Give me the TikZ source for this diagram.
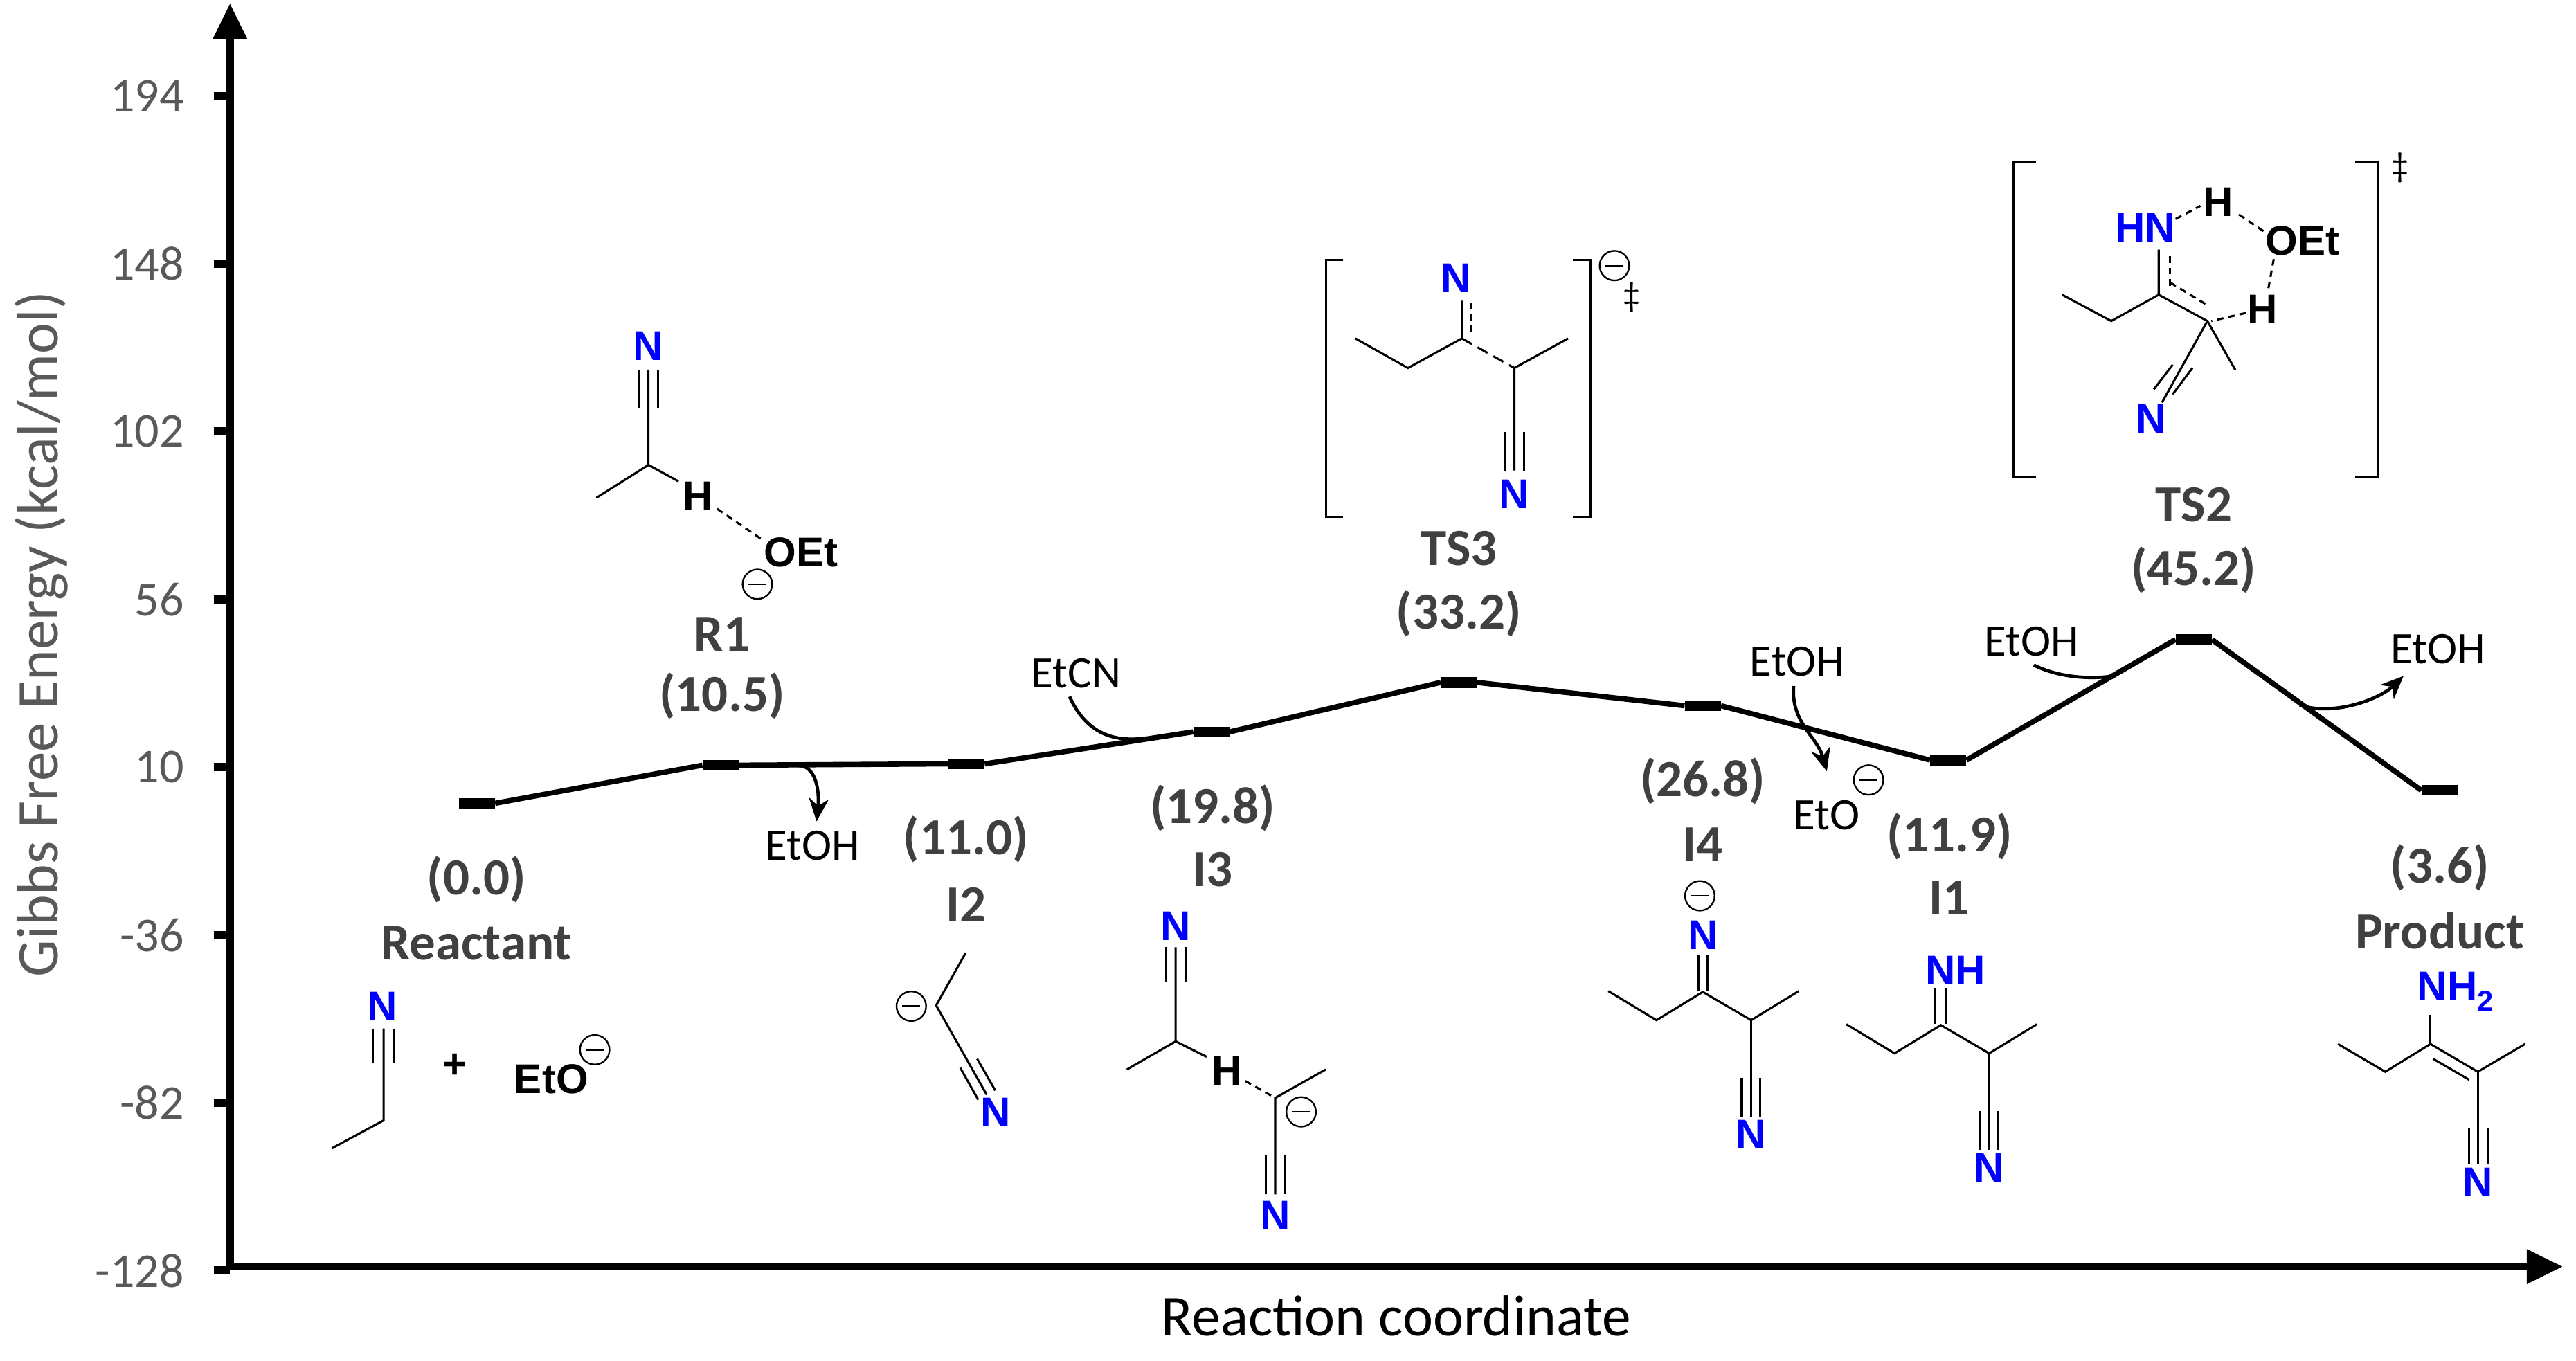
\documentclass[tikz,border=0pt]{standalone}
\usepackage{fontspec}
\setmainfont{Carlito}
\newfontfamily\atomfont{Liberation Sans}
\usetikzlibrary{arrows.meta}
\definecolor{lblgray}{HTML}{404040}
\definecolor{tickgray}{HTML}{595959}
\definecolor{nblue}{RGB}{0,0,255}
\tikzset{
  bond/.style={line width=1.3mm},
  dbond/.style={line width=1.3mm, dash pattern=on 4mm off 3mm},
  bar/.style={fill=black, minimum width=22mm, minimum height=6.5mm, inner sep=0, draw=none},
  path/.style={line width=3.2mm},
  elab/.style={font=\fontsize{90}{94}\selectfont\bfseries, text=lblgray, inner sep=0},
  ticklab/.style={font=\fontsize{84}{90}\selectfont, text=tickgray, anchor=east, inner sep=0},
  spec/.style={font=\fontsize{78}{82}\selectfont, inner sep=0},
  atom/.style={font=\atomfont\fontsize{72}{76}\selectfont\bfseries, inner sep=0},
  atomN/.style={atom, text=nblue},
  curv/.style={line width=2mm},
  curva/.style={line width=2mm, -{Stealth[length=14mm,width=12mm]}},
  brk/.style={line width=1.3mm},
}
\newcommand{\chgc}[2]{\draw[line width=1mm] (#1,#2) circle (9); \draw[line width=1mm] (#1-5.5,#2)--(#1+5.5,#2);}
\begin{document}
\begin{tikzpicture}[x=1mm,y=-1mm]
\useasboundingbox (0,0) rectangle (1568,828.4);
% axes
\coordinate (ytop) at (140,2);
\coordinate (xend) at (1560,771);
\draw[line width=4.5mm,-{Triangle[length=22mm,width=20mm]}] (140,773) -- (ytop);
\draw[line width=4.5mm,-{Triangle[length=22mm,width=20mm]}] (138,771) -- (xend);
\foreach \v/\y in {194/58.4,148/160.6,102/262.7,56/364.9,10/467,-36/569.2,-82/671.3,-128/773.4}{
  \draw[line width=5mm] (130,\y) -- (140,\y);
  \node[ticklab] at (112,\y) {\v};
}
\node[font=\fontsize{102}{106}\selectfont, text=tickgray, rotate=90] (ytitle) at (25,386) {Gibbs Free Energy (kcal/mol)};
\node[font=\fontsize{100}{104}\selectfont] (xtitle) at (850,801) {Reaction coordinate};
% energy bars
\node[bar] (re) at (290.3,489) {};
\node[bar] (r1) at (438.6,465.8) {};
\node[bar] (i2) at (588.3,465) {};
\node[bar] (i3) at (737.4,445.5) {};
\node[bar] (ts3) at (888,415.4) {};
\node[bar] (i4) at (1036.5,429.6) {};
\node[bar] (i1) at (1185.9,462.7) {};
\node[bar] (ts2) at (1335.3,389.3) {};
\node[bar] (pr) at (1484.9,481.1) {};
\draw[path] (re.east) -- (r1.west);
\draw[path] (r1.east) -- (i2.west);
\draw[path] (i2.east) -- (i3.west);
\draw[path] (i3.east) -- (ts3.west);
\draw[path] (ts3.east) -- (i4.west);
\draw[path] (i4.east) -- (i1.west);
\draw[path] (i1.east) -- (ts2.west);
\draw[path] (ts2.east) -- (pr.west);
% energy labels
\node[elab] (lre1) at (290,535.3) {(0.0)};
\node[elab] (lre2) at (290,574) {Reactant};
\node[elab] (lr11) at (439.5,386) {R1};
\node[elab] (lr12) at (439.5,423.7) {(10.5)};
\node[elab] (li21) at (588,511) {(11.0)};
\node[elab] (li22) at (588,550.5) {I2};
\node[elab] (li31) at (738.2,492) {(19.8)};
\node[elab] (li32) at (738.2,529.4) {I3};
\node[elab] (lt31) at (888,333.7) {TS3};
\node[elab] (lt32) at (888,373.3) {(33.2)};
\node[elab] (li41) at (1036.5,475.6) {(26.8)};
\node[elab] (li42) at (1036.5,514.3) {I4};
\node[elab] (li11) at (1186.6,509) {(11.9)};
\node[elab] (li12) at (1186.6,546.8) {I1};
\node[elab] (lt21) at (1335.3,307.2) {TS2};
\node[elab] (lt22) at (1335.3,347.1) {(45.2)};
\node[elab] (lpr1) at (1485,528) {(3.6)};
\node[elab] (lpr2) at (1485,566.7) {Product};
% side species and curved arrows
\coordinate (a1s) at (486,466);
\coordinate (a1e) at (497,500);
\draw[curva] (a1s) .. controls (496,466) and (499,480) .. (a1e);
\node[spec] (etoh1) at (494.5,514.7) {EtOH};
\node[spec] (etcn) at (655,410) {EtCN};
\coordinate (a2s) at (651,424);
\coordinate (a2e) at (696,449.5);
\draw[curv] (a2s) .. controls (660,444) and (675,452) .. (a2e);
\node[spec] (etoh2) at (1094,402.5) {EtOH};
\coordinate (a3s) at (1091.8,417.6);
\coordinate (a3e) at (1112,469.5);
\draw[curva] (a3s) .. controls (1090,440) and (1106,448) .. (a3e);
\node[spec] (eto2) at (1111.8,496.3) {EtO};
\chgc{1137.4}{474.8}
\node[spec] (etoh3) at (1236.6,390.6) {EtOH};
\coordinate (a4s) at (1238,404.8);
\coordinate (a4e) at (1288,411.2);
\draw[curv] (a4s) .. controls (1252,412) and (1272,414) .. (a4e);
\node[spec] (etoh4) at (1484,395) {EtOH};
\coordinate (a5s) at (1399.8,429.2);
\coordinate (a5e) at (1463,411.5);
\draw[curva] (a5s) .. controls (1420,436) and (1448,426) .. (a5e);
% Reactant structure
\node[atomN] (nre) at (232.8,612.5) {N};
\draw[bond] (233.5,626)--(233.5,682)--(202,699);
\draw[bond] (227,626)--(227,647) (240,626)--(240,647);
\node[atom] (plus) at (277,649) {+};
\node[atom, anchor=west] (eto1) at (313,657) {EtO};
\chgc{362}{639}
% R1 structure
\node[atomN] (nr1) at (394.7,210.7) {N};
\draw[bond] (394.7,225)--(394.7,283)--(363,303);
\draw[bond] (388.8,225)--(388.8,248) (400.6,225)--(400.6,248);
\draw[bond] (394.7,283)--(413,293);
\node[atom] (hr1) at (425,302) {H};
\draw[dbond] (436.5,309.7)--(464,328.5);
\node[atom, anchor=west] (oetr1) at (465,336) {OEt};
\chgc{461}{355.6}
% I2 structure
\chgc{554.7}{612.5}
\draw[bond] (587.8,580)--(569.8,612)--(600.6,666.4);
\draw[bond] (584.5,650)--(595.4,669.4) (594.8,644.5)--(605.8,663.8);
\node[atomN] (ni2) at (606,677) {N};
% I3 structure
\node[atomN] (ni3a) at (715.6,563.8) {N};
\draw[bond] (715.6,576.6)--(715.6,633.9)--(685.9,651);
\draw[bond] (710,576.6)--(710,598) (721.6,576.6)--(721.6,598);
\draw[bond] (715.6,633.9)--(734.4,643.3);
\node[atom] (hi3) at (746.8,651.9) {H};
\draw[dbond] (758,658)--(776.2,668.3);
\draw[bond] (807,651)--(776.2,668.3)--(776.2,727);
\draw[bond] (770.6,703.5)--(770.6,727) (781.9,703.5)--(781.9,727);
\chgc{792}{676.8}
\node[atomN] (ni3b) at (776.2,740) {N};
% TS3 structure
\draw[brk] (817.6,158.3)--(807,158.3)--(807,314.4)--(817.6,314.4);
\draw[brk] (957.5,158.3)--(968,158.3)--(968,314.4)--(957.5,314.4);
\chgc{982.7}{161.7}
\node[font=\fontsize{60}{64}\selectfont, inner sep=0] (dg3) at (993,181) {‡};
\node[atomN] (nt3a) at (886.4,169.5) {N};
\draw[bond] (825,206)--(857,224)--(889.8,206)--(889.8,183);
\draw[dbond] (895.4,184)--(895.4,203);
\draw[bond, dash pattern=on 7mm off 4mm] (889.8,206)--(921.8,224);
\draw[bond] (954.5,206)--(921.8,224)--(921.8,286.4);
\draw[bond] (916,262.8)--(916,286.4) (927.5,262.8)--(927.5,286.4);
\node[atomN] (nt3b) at (921.8,300.6) {N};
% I4 structure
\chgc{1034.7}{545.3}
\node[atomN] (ni4a) at (1036.5,569.4) {N};
\draw[bond] (1033.9,581)--(1033.9,603) (1039.2,581)--(1039.2,603);
\draw[bond] (979,603.3)--(1008.3,621)--(1036.5,603.8)--(1065.9,621)--(1094.9,603.3);
\draw[bond] (1065.9,621)--(1065.9,679.9);
\draw[bond] (1060.2,656)--(1060.2,679.9) (1071.5,656)--(1071.5,679.9);
\node[atomN] (ni4b) at (1065.9,690.6) {N};
% I1 structure
\begin{scope}[shift={(144.9,20.2)}]
\draw[bond] (1033.2,581)--(1033.2,603) (1040,581)--(1040,603);
\draw[bond] (979,603.3)--(1008.3,621)--(1036.5,603.8)--(1065.9,621)--(1094.9,603.3);
\draw[bond] (1065.9,621)--(1065.9,679.9);
\draw[bond] (1060.2,656)--(1060.2,679.9) (1071.5,656)--(1071.5,679.9);
\node[atomN] (ni1b) at (1065.9,690.6) {N};
\end{scope}
\node[atomN, anchor=west] (nhi1) at (1172,590.8) {NH};
% TS2 structure
\draw[brk] (1239.3,98.7)--(1225.6,98.7)--(1225.6,290.3)--(1239.3,290.3);
\draw[brk] (1433.5,98.7)--(1447.3,98.7)--(1447.3,290.3)--(1433.5,290.3);
\node[font=\fontsize{60}{64}\selectfont, inner sep=0] (dg2) at (1461,102.2) {‡};
\node[atomN, anchor=east] (hnt2) at (1324,138.6) {HN};
\draw[bond] (1255.2,179.4)--(1285.1,195.4)--(1314,179.4)--(1314,152);
\draw[dbond] (1321,156)--(1321,176);
\draw[bond] (1314,179.4)--(1343.6,195.4)--(1360.6,225.1);
\draw[dbond] (1321,172)--(1344,186);
\draw[dbond] (1324.3,133.3)--(1339.4,125.3);
\node[atom] (h1t2) at (1350.4,123.1) {H};
\draw[dbond] (1362.8,130.6)--(1377.9,140.8);
\node[atom, anchor=west] (oett2) at (1379,146.6) {OEt};
\draw[dbond] (1384,157.7)--(1380.6,176.3);
\node[atom] (h2t2) at (1377.3,188.3) {H};
\draw[dbond] (1367,190.5)--(1346,195.4);
\draw[bond] (1343.6,195.4)--(1316,245);
\draw[bond] (1322.5,222)--(1311,237) (1334.5,224)--(1322.5,240);
\node[atomN] (nt2) at (1309.3,254.9) {N};
% Product structure
\node[atomN, anchor=west] (nh2) at (1471.3,603.6) {NH\raisebox{-0.25em}{\fontsize{50}{52}\selectfont 2}};
\draw[bond] (1479.4,617.8)--(1479.4,635.5);
\draw[bond] (1423.1,635.5)--(1451.9,652.4)--(1479.4,635.5)--(1508.2,652.4)--(1537,635.5);
\draw[bond] (1481,644.5)--(1503,657.3);
\draw[bond] (1508.2,652.4)--(1508.2,708.7);
\draw[bond] (1502.7,686.5)--(1502.7,708.7) (1514.2,686.5)--(1514.2,708.7);
\node[atomN] (npr) at (1508.2,719.8) {N};
\end{tikzpicture}
\end{document}
